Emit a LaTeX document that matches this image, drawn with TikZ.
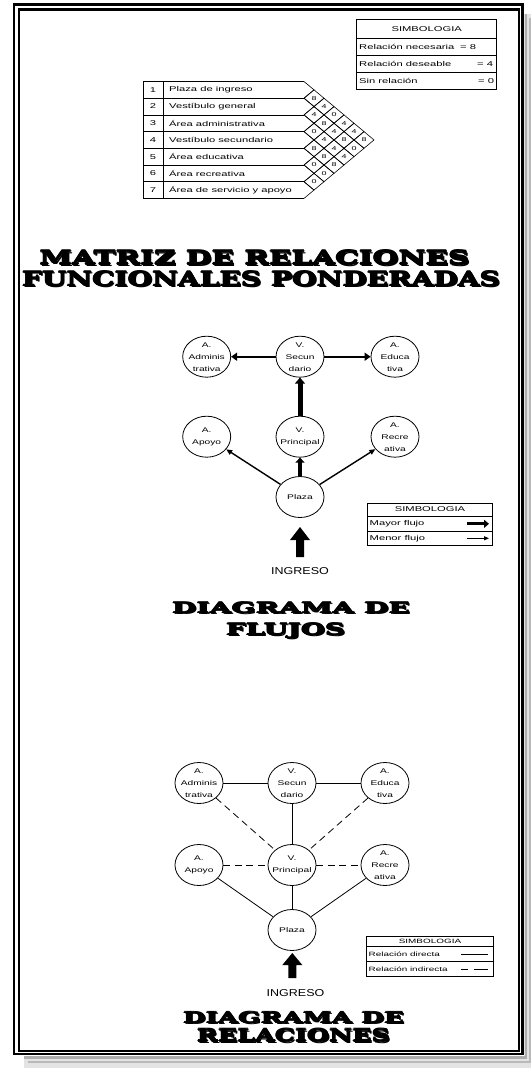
\documentclass[tikz,border=0pt]{standalone}
\usepackage{graphicx}
\usepackage{fontspec}
\setmainfont{Liberation Sans}[FakeStretch=1.6]
\newfontfamily\circfont{Liberation Sans}[FakeStretch=1.5]
\newfontfamily\ingfont{Liberation Sans}[FakeStretch=1.25]
\newfontfamily\titlefont{DejaVu Serif}
\usetikzlibrary{shapes.geometric,arrows.meta}
\newsavebox\tbox
\newcommand\emb[3]{%
  \sbox\tbox{\resizebox{#2}{#3}{\titlefont\bfseries #1}}%
  \makebox[\wd\tbox][l]{%
    \rlap{\kern1.5pt\raisebox{-1.5pt}{\color{black!70}\usebox\tbox}}%
    \rlap{\kern0.6pt\color{white}\usebox\tbox}%
    \rlap{\kern-0.6pt\color{white}\usebox\tbox}%
    \rlap{\raisebox{0.6pt}{\color{white}\usebox\tbox}}%
    \rlap{\raisebox{-0.6pt}{\color{white}\usebox\tbox}}%
    \usebox\tbox}}
\begin{document}
\begin{tikzpicture}[x=1pt,y=-1pt,
  mline/.style={line width=0.6pt},
  area/.style={draw, ellipse, line width=0.8pt, minimum width=48pt, minimum height=41pt, inner sep=0pt},
  areatext/.style={align=center, font=\circfont\fontsize{6.8}{12}\selectfont, inner sep=0pt},
  cell/.style={font=\fontsize{5.6}{5.6}\selectfont, inner sep=0pt},
  lgtext/.style={font=\fontsize{7}{8}\selectfont, inner sep=0pt, anchor=west},
  lgsmall/.style={font=\fontsize{6.2}{7}\selectfont, inner sep=0pt, anchor=west},
  lghead/.style={font=\fontsize{7}{8}\selectfont, inner sep=0pt},
  tabtext/.style={font=\fontsize{7}{8}\selectfont, inner sep=0pt, anchor=west},
  ttl/.style={anchor=base, inner sep=0pt},
  ingtext/.style={font=\ingfont\fontsize{10}{12}\selectfont, inner sep=0pt},
  rel/.style={line width=0.8pt},
  relind/.style={line width=0.8pt, dash pattern=on 7pt off 4.5pt},
  blockarrow/.style={fill=black}
]
\fill[white] (0,0) rectangle (531,1073);
\useasboundingbox (0,0) rectangle (531,1073);

% ---------- frame ----------
\fill[gray!22] (24,1055.5) rectangle (531,1068);
\fill[gray!22] (524,14) rectangle (531,1068);
\draw[gray!65, line width=2.4pt] (525.8,14) -- (525.8,1057.3) -- (24,1057.3);
\draw[gray!55, line width=2.4pt] (529.8,18) -- (529.8,1062) -- (28,1062);
\draw[line width=2.4pt] (13.7,4.5) rectangle (522.5,1054);
\draw[line width=2.4pt] (19,9.5) rectangle (518.8,1051);

% ---------- legend 1 ----------
\draw[mline] (356.7,19.3) rectangle (496.7,89.3);
\draw[mline] (356.7,38.3) -- (496.7,38.3);
\draw[mline] (356.7,55.7) -- (496.7,55.7);
\draw[mline] (356.7,72.7) -- (496.7,72.7);
\node[lghead] (s1h) at (426.7,28.8) {SIMBOLOGIA};
\node[lgtext] (s1a) at (359,47.2) {Relación necesaria};
\node[lgtext] (s1b) at (359,64.2) {Relación deseable};
\node[lgtext] (s1c) at (359,81) {Sin relación};
\node[lgtext] (s1av) at (460,47.2) {= 8};
\node[lgtext] (s1bv) at (477,64.2) {= 4};
\node[lgtext] (s1cv) at (478,81) {= 0};

% ---------- matrix ----------
\foreach \k in {0,...,7} \draw[mline] (143,{81.5+\k*16.7}) -- (304,{81.5+\k*16.7});
\draw[mline] (143,81.5) -- (143,198.4);
\draw[mline] (163,81.5) -- (163,198.4);
\foreach \k in {1,...,7} \draw[mline] (304,{81.5+(\k-1)*16.7}) -- (314,{81.5+(\k-1)*16.7+8.35}) -- (304,{81.5+\k*16.7});
\foreach \i/\j/\v in {1/2/8,1/3/4,1/4/0,1/5/4,1/6/4,1/7/8,
                      2/3/4,2/4/8,2/5/4,2/6/8,2/7/0,
                      3/4/0,3/5/4,3/6/4,3/7/4,
                      4/5/8,4/6/8,4/7/8,
                      5/6/0,5/7/0,
                      6/7/0}{
  \pgfmathsetmacro\cx{304+10*(\j-\i)}
  \pgfmathsetmacro\cy{81.5+8.35*(\i+\j-1)}
  \draw[mline] (\cx-10,\cy) -- (\cx,\cy-8.35) -- (\cx+10,\cy) -- (\cx,\cy+8.35) -- cycle;
  \node[cell] (m\i-\j) at (\cx,\cy) {\v};
}
\foreach \k/\t in {1/Plaza de ingreso,2/Vestíbulo general,3/Área administrativa,4/Vestíbulo secundario,5/Área educativa,6/Área recreativa,7/Área de servicio y apoyo}{
  \node[font=\fontsize{7}{8}\selectfont, inner sep=0pt] (n\k) at (153,{81.5+(\k-0.5)*16.7}) {\k};
  \node[tabtext] (l\k) at (169,{81.5+(\k-0.5)*16.7}) {\t};
}

% ---------- title 1 ----------
\node[ttl] (t1) at (254.5,264.5) {\emb{MATRIZ DE RELACIONES}{430pt}{14pt}};
\node[ttl] (t2) at (261,286) {\emb{FUNCIONALES PONDERADAS}{478pt}{15pt}};

% ---------- flow diagram ----------
\node[area, label={[areatext]center:{A.\\Adminis\\trativa}}] (fA) at (206.7,356.7) {};
\node[area, label={[areatext]center:{V.\\Secun\\dario}}] (fS) at (300,356.7) {};
\node[area, label={[areatext]center:{A.\\Educa\\tiva}}] (fE) at (395,356.7) {};
\node[area, label={[areatext]center:{A.\\Apoyo}}] (fAp) at (206.7,436.7) {};
\node[area, label={[areatext]center:{V.\\Principal}}] (fP) at (300,436.7) {};
\node[area, label={[areatext]center:{A.\\Recre\\ativa}}] (fR) at (395,436.7) {};
\node[area, label={[areatext]center:{Plaza}}] (fPl) at (300,497) {};
\draw[line width=2.4pt,-{Triangle[length=6pt,width=8pt]}] (fS) -- (fA);
\draw[line width=2.4pt,-{Triangle[length=6pt,width=8pt]}] (fS) -- (fE);
\draw[line width=5pt,-{Triangle[length=6pt,width=10pt]}] (fP) -- (fS);
\draw[line width=4pt,-{Triangle[length=5pt,width=9pt]}] (fPl) -- (fP);
\draw[line width=1.4pt,-{Triangle[length=6pt,width=5pt]}] (fPl) -- (fAp);
\draw[line width=1.4pt,-{Triangle[length=6pt,width=5pt]}] (fPl) -- (fR);
\fill[blockarrow] (300,527) -- (310,540) -- (304,540) -- (304,557) -- (296,557) -- (296,540) -- (290,540) -- cycle;
\node[ingtext] (ing1) at (300,571) {INGRESO};

% ---------- legend 2 ----------
\draw[mline] (367.3,503) rectangle (492.7,545);
\draw[mline] (367.3,516) -- (492.7,516);
\draw[mline] (367.3,531.7) -- (492.7,531.7);
\node[lghead] (s2h) at (430,509.5) {SIMBOLOGIA};
\node[lgtext] (s2a) at (369.5,523.8) {Mayor flujo};
\node[lgtext] (s2b) at (369.5,538.3) {Menor flujo};
\coordinate (g1a) at (467,523.8);
\coordinate (g1b) at (489,523.8);
\coordinate (g2a) at (467,538.3);
\coordinate (g2b) at (489,538.3);
\draw[line width=3pt,-{Triangle[length=5pt,width=8pt]}] (g1a) -- (g1b);
\draw[line width=1pt,-{Triangle[length=5pt,width=4pt]}] (g2a) -- (g2b);

% ---------- title 2 ----------
\node[ttl] (t3) at (291,613) {\emb{DIAGRAMA DE}{238pt}{11pt}};
\node[ttl] (t4) at (285.5,635) {\emb{FLUJOS}{119pt}{12pt}};

% ---------- relations diagram ----------
\node[area, label={[areatext]center:{A.\\Adminis\\trativa}}] (rA) at (199,783) {};
\node[area, label={[areatext]center:{V.\\Secun\\dario}}] (rS) at (292,783) {};
\node[area, label={[areatext]center:{A.\\Educa\\tiva}}] (rE) at (385,783) {};
\node[area, label={[areatext]center:{A.\\Apoyo}}] (rAp) at (199,865) {};
\node[area, label={[areatext]center:{V.\\Principal}}] (rP) at (292,865) {};
\node[area, label={[areatext]center:{A.\\Recre\\ativa}}] (rR) at (385,865) {};
\node[area, label={[areatext]center:{Plaza}}] (rPl) at (292,930) {};
\draw[rel] (rA) -- (rS);
\draw[rel] (rS) -- (rE);
\draw[rel] (rS) -- (rP);
\draw[rel] (rP) -- (rPl);
\draw[rel] (rAp) -- (rPl);
\draw[rel] (rR) -- (rPl);
\draw[relind] (rA) -- (rP);
\draw[relind] (rE) -- (rP);
\draw[relind] (rAp) -- (rP);
\draw[relind] (rP) -- (rR);
\fill[blockarrow] (292.3,953) -- (302.3,965) -- (296.3,965) -- (296.3,978) -- (288.3,978) -- (288.3,965) -- (282.3,965) -- cycle;
\node[ingtext] (ing2) at (295.5,993) {INGRESO};

% ---------- legend 3 ----------
\draw[mline] (366.7,936) rectangle (493.3,976);
\draw[mline] (366.7,946) -- (493.3,946);
\draw[mline] (366.7,961.7) -- (493.3,961.7);
\node[font=\fontsize{6.2}{7}\selectfont, inner sep=0pt] (s3h) at (430,941) {SIMBOLOGIA};
\node[lgsmall] (s3a) at (368.5,954) {Relación directa};
\node[lgsmall] (s3b) at (368.5,969) {Relación indirecta};
\coordinate (h1a) at (461,954);
\coordinate (h1b) at (488,954);
\coordinate (h2a) at (461,969);
\coordinate (h2b) at (488,969);
\draw[line width=0.8pt] (h1a) -- (h1b);
\draw[line width=0.8pt, dash pattern=on 7pt off 6pt on 14pt off 3pt] (h2a) -- (h2b);

% ---------- title 3 ----------
\node[ttl] (t5) at (293.5,1023) {\emb{DIAGRAMA DE}{221pt}{11.3pt}};
\node[ttl] (t6) at (293.5,1041.5) {\emb{RELACIONES}{193pt}{12.5pt}};
\end{tikzpicture}
\end{document}
